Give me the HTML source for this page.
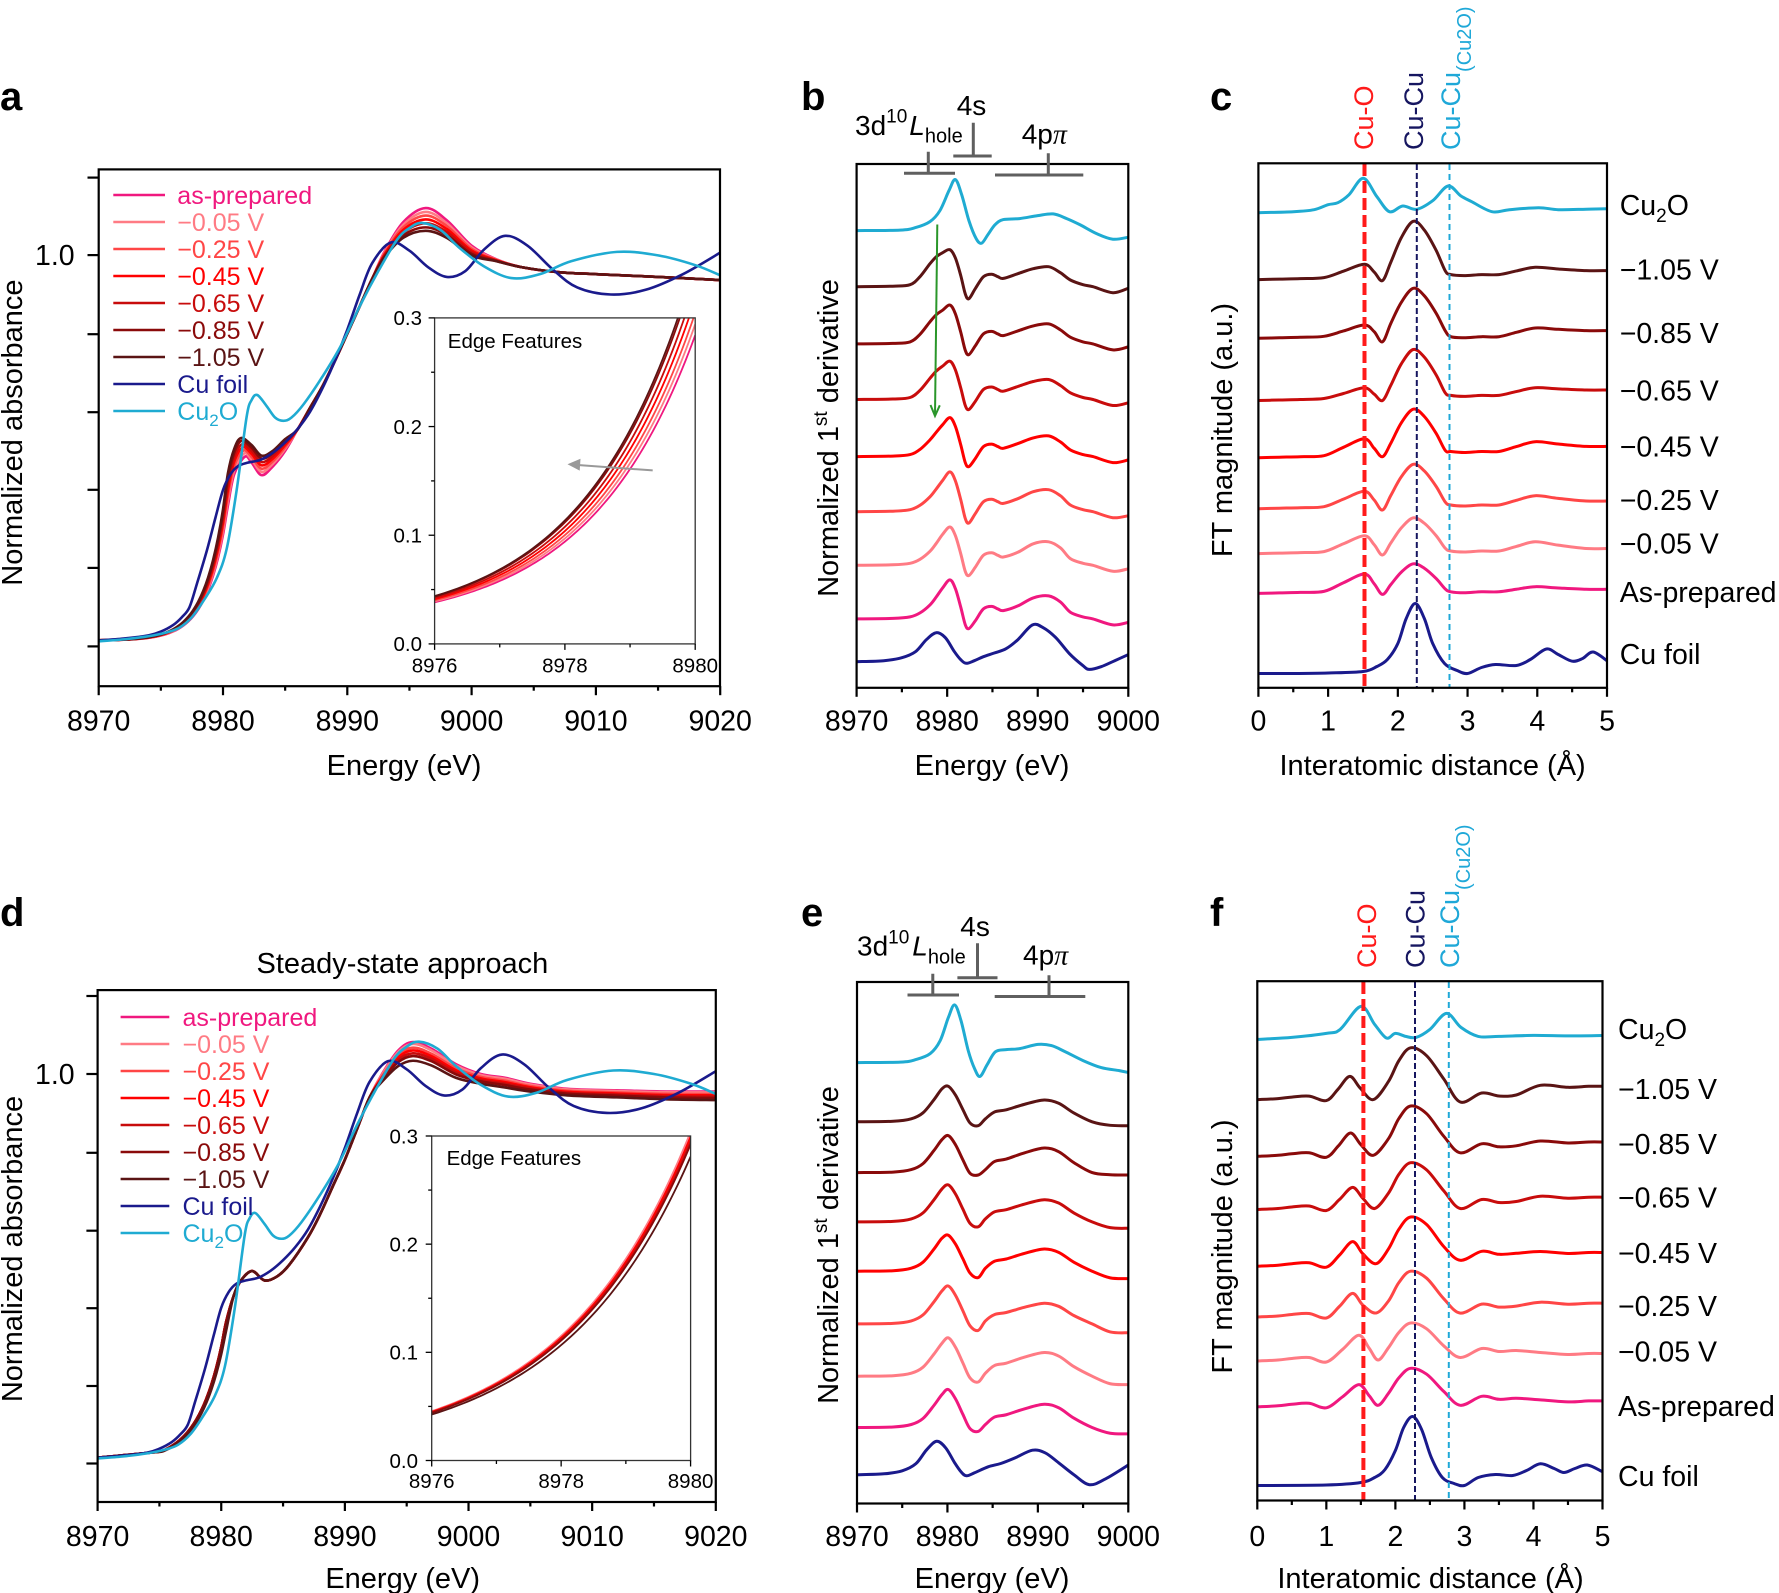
<!DOCTYPE html>
<html><head><meta charset="utf-8">
<style>
html,body{margin:0;padding:0;background:#fff;}
svg{display:block;}
text{font-family:"Liberation Sans",Arial,sans-serif;fill:#000;}
</style></head>
<body>
<svg id="s" xmlns="http://www.w3.org/2000/svg" width="1779" height="1593" viewBox="0 0 1779 1593">
<defs>
<clipPath id="ca"><rect x="98.7" y="169.4" width="621.3" height="516.8"/></clipPath>
<clipPath id="cai"><rect x="434.6" y="317.9" width="260.6" height="326"/></clipPath>
<clipPath id="cb"><rect x="856.6" y="164" width="271.7" height="523.8"/></clipPath>
<clipPath id="cc"><rect x="1258.4" y="163.3" width="348.6" height="524.5"/></clipPath>
<clipPath id="cd"><rect x="97.6" y="990.1" width="618.2" height="511.9"/></clipPath>
<clipPath id="cdi"><rect x="431.7" y="1136" width="258.9" height="324.5"/></clipPath>
<clipPath id="ce"><rect x="857" y="982" width="271.3" height="521.5"/></clipPath>
<clipPath id="cf"><rect x="1257.3" y="981.2" width="345.2" height="519.3"/></clipPath>
</defs>
<rect x="0" y="0" width="1779" height="1593" fill="#fff"/>

<!-- ===== Panel a ===== -->
<g id="gA" clip-path="url(#ca)"></g>
<g stroke-width="2.5">
<line x1="113.3" y1="195" x2="165" y2="195" stroke="#f0187f"/>
<line x1="113.3" y1="222" x2="165" y2="222" stroke="#ff7b84"/>
<line x1="113.3" y1="249" x2="165" y2="249" stroke="#ff4646"/>
<line x1="113.3" y1="276" x2="165" y2="276" stroke="#ff0000"/>
<line x1="113.3" y1="303" x2="165" y2="303" stroke="#c80c0c"/>
<line x1="113.3" y1="330" x2="165" y2="330" stroke="#8a0a0a"/>
<line x1="113.3" y1="357" x2="165" y2="357" stroke="#5a1414"/>
<line x1="113.3" y1="384" x2="165" y2="384" stroke="#1a1a8c"/>
<line x1="113.3" y1="411" x2="165" y2="411" stroke="#1fabd2"/>
</g>
<g font-size="25">
<text x="177.3" y="204" style="fill:#f0187f">as-prepared</text>
<text x="177.3" y="231" style="fill:#ff7b84">−0.05 V</text>
<text x="177.3" y="258" style="fill:#ff4646">−0.25 V</text>
<text x="177.3" y="285" style="fill:#ff0000">−0.45 V</text>
<text x="177.3" y="312" style="fill:#c80c0c">−0.65 V</text>
<text x="177.3" y="339" style="fill:#8a0a0a">−0.85 V</text>
<text x="177.3" y="366" style="fill:#5a1414">−1.05 V</text>
<text x="177.3" y="393" style="fill:#1a1a8c">Cu foil</text>
<text x="177.3" y="420" style="fill:#1fabd2">Cu<tspan font-size="17" dy="6">2</tspan><tspan dy="-6">O</tspan></text>
</g>
<rect x="434.6" y="317.9" width="260.6" height="326" fill="#fff"/>
<g id="gAi" clip-path="url(#cai)"></g>
<rect x="434.6" y="317.9" width="260.6" height="326" fill="none" stroke="#333" stroke-width="1.3"/>
<line x1="652.7" y1="470.4" x2="576" y2="464.9" stroke="#999" stroke-width="2"/>
<polygon points="567.5,464.3 580.5,458.8 579.7,470.6" fill="#999"/>
<text x="447.8" y="348" font-size="20.5">Edge Features</text>
<g font-size="20.5" text-anchor="end">
<text x="422" y="325.2">0.3</text><text x="422" y="433.9">0.2</text><text x="422" y="542.5">0.1</text><text x="422" y="651.2">0.0</text>
</g>
<g font-size="20.5" text-anchor="middle">
<text x="434.6" y="672.4">8976</text><text x="564.9" y="672.4">8978</text><text x="695.2" y="672.4">8980</text>
</g>
<rect x="98.7" y="169.4" width="621.3" height="516.8" fill="none" stroke="#000" stroke-width="2.2"/>
<text x="0" y="110" font-size="40" font-weight="bold">a</text>
<g font-size="28.5" text-anchor="middle">
<text x="98.7" y="730.6">8970</text><text x="223" y="730.6">8980</text><text x="347.3" y="730.6">8990</text>
<text x="471.6" y="730.6">9000</text><text x="595.9" y="730.6">9010</text><text x="720.2" y="730.6">9020</text>
</g>
<text x="74.6" y="265" font-size="28.5" text-anchor="end">1.0</text>
<text x="404" y="775" font-size="29" text-anchor="middle">Energy (eV)</text>
<text transform="translate(22,432.6) rotate(-90)" font-size="29" text-anchor="middle">Normalized absorbance</text>

<!-- ===== Panel b ===== -->
<g id="gB" clip-path="url(#cb)"></g>
<line x1="937.3" y1="224.5" x2="935" y2="415" stroke="#2a962a" stroke-width="2"/>
<polyline points="930.5,405 935,416 939.8,405.3" fill="none" stroke="#2a962a" stroke-width="2"/>
<rect x="856.6" y="164" width="271.7" height="523.8" fill="none" stroke="#000" stroke-width="2.2"/>
<g stroke="#5f5f5f" stroke-width="3" fill="none">
<path d="M904,173.3H955M928.3,151.7V173.3"/>
<path d="M953.3,156H991.7M973.3,122.7V156"/>
<path d="M995,175H1083.3M1048.3,153.3V175"/>
</g>
<text x="855" y="135" font-size="28">3d<tspan font-size="19" dy="-12.3">10</tspan><tspan dy="12.3" dx="2" font-style="italic">L</tspan><tspan font-size="20" dy="7.7">hole</tspan></text>
<text x="956.7" y="115" font-size="28">4s</text>
<text x="1021.7" y="143.5" font-size="28">4p<tspan font-family="Liberation Serif, serif" font-style="italic">π</tspan></text>
<text x="801" y="110" font-size="40" font-weight="bold">b</text>
<g font-size="28.5" text-anchor="middle">
<text x="856.6" y="730.6">8970</text><text x="947.2" y="730.6">8980</text><text x="1037.7" y="730.6">8990</text><text x="1128.3" y="730.6">9000</text>
</g>
<text x="992" y="775" font-size="29" text-anchor="middle">Energy (eV)</text>
<text transform="translate(838,438) rotate(-90)" font-size="29" text-anchor="middle">Normalized 1<tspan font-size="19" dy="-11">st</tspan><tspan dy="11"> derivative</tspan></text>

<!-- ===== Panel c ===== -->
<g id="gC" clip-path="url(#cc)"></g>
<line x1="1364.5" y1="164" x2="1364.5" y2="687" stroke="#ff1a1a" stroke-width="4" stroke-dasharray="12 5"/>
<line x1="1416.8" y1="164" x2="1416.8" y2="687" stroke="#161660" stroke-width="2" stroke-dasharray="6 3"/>
<line x1="1449.5" y1="164" x2="1449.5" y2="687" stroke="#1fa8d8" stroke-width="2" stroke-dasharray="6 4"/>
<rect x="1258.4" y="163.3" width="348.6" height="524.5" fill="none" stroke="#000" stroke-width="2.2"/>
<text transform="translate(1373,150) rotate(-90)" font-size="27" style="fill:#ff1a1a">Cu-O</text>
<text transform="translate(1423,150) rotate(-90)" font-size="27" style="fill:#161660">Cu-Cu</text>
<text transform="translate(1460,150) rotate(-90)" font-size="27" style="fill:#1fa8d8">Cu-Cu<tspan font-size="20" dy="11">(Cu2O)</tspan></text>
<text x="1210" y="110" font-size="40" font-weight="bold">c</text>
<g font-size="28.5" text-anchor="middle">
<text x="1258.4" y="730.6">0</text><text x="1328.1" y="730.6">1</text><text x="1397.8" y="730.6">2</text>
<text x="1467.6" y="730.6">3</text><text x="1537.3" y="730.6">4</text><text x="1607" y="730.6">5</text>
</g>
<text x="1432.6" y="775" font-size="29" text-anchor="middle">Interatomic distance (Å)</text>
<text transform="translate(1232,430) rotate(-90)" font-size="29" text-anchor="middle">FT magnitude (a.u.)</text>
<g font-size="28.5">
<text x="1619.7" y="215">Cu<tspan font-size="19" dy="7">2</tspan><tspan dy="-7">O</tspan></text>
<text x="1619.7" y="279.6">−1.05 V</text>
<text x="1619.7" y="342.9">−0.85 V</text>
<text x="1619.7" y="400.5">−0.65 V</text>
<text x="1619.7" y="456.6">−0.45 V</text>
<text x="1619.7" y="510.2">−0.25 V</text>
<text x="1619.7" y="553.6">−0.05 V</text>
<text x="1619.7" y="602">As-prepared</text>
<text x="1619.7" y="664.2">Cu foil</text>
</g>

<!-- ===== Panel d ===== -->
<g id="gD" clip-path="url(#cd)"></g>
<g stroke-width="2.5">
<line x1="120.6" y1="1017" x2="169.3" y2="1017" stroke="#f0187f"/>
<line x1="120.6" y1="1044" x2="169.3" y2="1044" stroke="#ff7b84"/>
<line x1="120.6" y1="1071" x2="169.3" y2="1071" stroke="#ff4646"/>
<line x1="120.6" y1="1098" x2="169.3" y2="1098" stroke="#ff0000"/>
<line x1="120.6" y1="1125" x2="169.3" y2="1125" stroke="#c80c0c"/>
<line x1="120.6" y1="1152" x2="169.3" y2="1152" stroke="#8a0a0a"/>
<line x1="120.6" y1="1179" x2="169.3" y2="1179" stroke="#5a1414"/>
<line x1="120.6" y1="1206" x2="169.3" y2="1206" stroke="#1a1a8c"/>
<line x1="120.6" y1="1233" x2="169.3" y2="1233" stroke="#1fabd2"/>
</g>
<g font-size="25">
<text x="182.5" y="1026" style="fill:#f0187f">as-prepared</text>
<text x="182.5" y="1053" style="fill:#ff7b84">−0.05 V</text>
<text x="182.5" y="1080" style="fill:#ff4646">−0.25 V</text>
<text x="182.5" y="1107" style="fill:#ff0000">−0.45 V</text>
<text x="182.5" y="1134" style="fill:#c80c0c">−0.65 V</text>
<text x="182.5" y="1161" style="fill:#8a0a0a">−0.85 V</text>
<text x="182.5" y="1188" style="fill:#5a1414">−1.05 V</text>
<text x="182.5" y="1215" style="fill:#1a1a8c">Cu foil</text>
<text x="182.5" y="1242" style="fill:#1fabd2">Cu<tspan font-size="17" dy="6">2</tspan><tspan dy="-6">O</tspan></text>
</g>
<rect x="431.7" y="1136" width="258.9" height="324.5" fill="#fff"/>
<g id="gDi" clip-path="url(#cdi)"></g>
<rect x="431.7" y="1136" width="258.9" height="324.5" fill="none" stroke="#333" stroke-width="1.3"/>
<text x="446.6" y="1165" font-size="20.5">Edge Features</text>
<g font-size="20.5" text-anchor="end">
<text x="418" y="1143.3">0.3</text><text x="418" y="1251.5">0.2</text><text x="418" y="1359.6">0.1</text><text x="418" y="1467.8">0.0</text>
</g>
<g font-size="20.5" text-anchor="middle">
<text x="431.7" y="1488.1">8976</text><text x="561.2" y="1488.1">8978</text><text x="690.6" y="1488.1">8980</text>
</g>
<rect x="97.6" y="990.1" width="618.2" height="511.9" fill="none" stroke="#000" stroke-width="2.2"/>
<text x="0" y="926" font-size="40" font-weight="bold">d</text>
<text x="402.4" y="973" font-size="29" text-anchor="middle">Steady-state approach</text>
<g font-size="28.5" text-anchor="middle">
<text x="97.6" y="1545.8">8970</text><text x="221.2" y="1545.8">8980</text><text x="344.9" y="1545.8">8990</text>
<text x="468.5" y="1545.8">9000</text><text x="592.2" y="1545.8">9010</text><text x="715.8" y="1545.8">9020</text>
</g>
<text x="74.6" y="1084" font-size="28.5" text-anchor="end">1.0</text>
<text x="402.7" y="1588" font-size="29" text-anchor="middle">Energy (eV)</text>
<text transform="translate(22,1249) rotate(-90)" font-size="29" text-anchor="middle">Normalized absorbance</text>

<!-- ===== Panel e ===== -->
<g id="gE" clip-path="url(#ce)"></g>
<rect x="857" y="982" width="271.3" height="521.5" fill="none" stroke="#000" stroke-width="2.2"/>
<g stroke="#5f5f5f" stroke-width="3" fill="none">
<path d="M907.5,995H959M932.8,973.8V995"/>
<path d="M957.4,977.8H997.5M977.5,943.3V977.8"/>
<path d="M994.7,996.5H1085.3M1049,975.3V996.5"/>
</g>
<text x="857" y="955.6" font-size="28">3d<tspan font-size="19" dy="-12.3">10</tspan><tspan dy="12.3" dx="3" font-style="italic">L</tspan><tspan font-size="20" dy="7.7">hole</tspan></text>
<text x="960.3" y="935.9" font-size="28">4s</text>
<text x="1023" y="964.5" font-size="28">4p<tspan font-family="Liberation Serif, serif" font-style="italic">π</tspan></text>
<text x="801" y="926" font-size="40" font-weight="bold">e</text>
<g font-size="28.5" text-anchor="middle">
<text x="857" y="1545.8">8970</text><text x="947.4" y="1545.8">8980</text><text x="1037.9" y="1545.8">8990</text><text x="1128.3" y="1545.8">9000</text>
</g>
<text x="992" y="1588" font-size="29" text-anchor="middle">Energy (eV)</text>
<text transform="translate(838,1245) rotate(-90)" font-size="29" text-anchor="middle">Normalized 1<tspan font-size="19" dy="-11">st</tspan><tspan dy="11"> derivative</tspan></text>

<!-- ===== Panel f ===== -->
<g id="gF" clip-path="url(#cf)"></g>
<line x1="1363.4" y1="982" x2="1363.4" y2="1500" stroke="#ff1a1a" stroke-width="4" stroke-dasharray="12 5"/>
<line x1="1415" y1="982" x2="1415" y2="1500" stroke="#161660" stroke-width="2" stroke-dasharray="6 3"/>
<line x1="1448.8" y1="982" x2="1448.8" y2="1500" stroke="#1fa8d8" stroke-width="2" stroke-dasharray="6 4"/>
<rect x="1257.3" y="981.2" width="345.2" height="519.3" fill="none" stroke="#000" stroke-width="2.2"/>
<text transform="translate(1376,968) rotate(-90)" font-size="27" style="fill:#ff1a1a">Cu-O</text>
<text transform="translate(1424.7,968) rotate(-90)" font-size="27" style="fill:#161660">Cu-Cu</text>
<text transform="translate(1459,968) rotate(-90)" font-size="27" style="fill:#1fa8d8">Cu-Cu<tspan font-size="20" dy="11">(Cu2O)</tspan></text>
<text x="1210" y="926" font-size="40" font-weight="bold">f</text>
<g font-size="28.5" text-anchor="middle">
<text x="1257.3" y="1545.8">0</text><text x="1326.3" y="1545.8">1</text><text x="1395.4" y="1545.8">2</text>
<text x="1464.4" y="1545.8">3</text><text x="1533.5" y="1545.8">4</text><text x="1602.5" y="1545.8">5</text>
</g>
<text x="1430.5" y="1588" font-size="29" text-anchor="middle">Interatomic distance (Å)</text>
<text transform="translate(1232,1246.5) rotate(-90)" font-size="29" text-anchor="middle">FT magnitude (a.u.)</text>
<g font-size="28.5">
<text x="1618" y="1039">Cu<tspan font-size="19" dy="7">2</tspan><tspan dy="-7">O</tspan></text>
<text x="1618" y="1098.9">−1.05 V</text>
<text x="1618" y="1154.2">−0.85 V</text>
<text x="1618" y="1207.4">−0.65 V</text>
<text x="1618" y="1263.2">−0.45 V</text>
<text x="1618" y="1315.9">−0.25 V</text>
<text x="1618" y="1361.7">−0.05 V</text>
<text x="1618" y="1416">As-prepared</text>
<text x="1618" y="1486">Cu foil</text>
</g>

<g id="tk"></g>
</svg>
<script>
(function(){
var NS='http://www.w3.org/2000/svg';
function G(id){return document.getElementById(id);}
function el(tag,a,p){var e=document.createElementNS(NS,tag);for(var k in a)e.setAttribute(k,a[k]);p.appendChild(e);return e;}
function f2(v){return v.toFixed(2);}
function cr(P){
  var d='M'+f2(P[0][0])+' '+f2(P[0][1]);
  for(var i=0;i<P.length-1;i++){
    var p0=P[i>0?i-1:i],p1=P[i],p2=P[i+1],p3=P[i+2<P.length?i+2:i+1];
    var c=[p1[0]+(p2[0]-p0[0])/6,p1[1]+(p2[1]-p0[1])/6,p2[0]-(p3[0]-p1[0])/6,p2[1]-(p3[1]-p1[1])/6,p2[0],p2[1]];
    d+='C'+c.map(f2).join(' ');
  }
  return d;
}
function draw(g,pts,X,Y,col,w){
  el('path',{d:cr(pts.map(function(p){return [X(p[0]),Y(p[1])];})),fill:'none',stroke:col,'stroke-width':w,'stroke-linejoin':'round','stroke-linecap':'round'},G(g));
}
function poly(g,pts,X,Y,col,w){
  el('path',{d:'M'+pts.map(function(p){return f2(X(p[0]))+' '+f2(Y(p[1]));}).join('L'),fill:'none',stroke:col,'stroke-width':w,'stroke-linejoin':'round'},G(g));
}
function tk(x1,y1,x2,y2,w){el('line',{x1:x1,y1:y1,x2:x2,y2:y2,stroke:'#000','stroke-width':w||2.2},G('tk'));}

var COL=['#f0187f','#ff7b84','#ff4646','#ff0000','#c80c0c','#8a0a0a','#5a1414'];
var CU='#1a1a8c', CU2O='#1fabd2';
var LW=2.6;

var cuF=[[8970,0.015],[8972,0.02],[8974,0.028],[8975,0.038],[8976,0.055],[8976.7,0.075],[8977.3,0.1],[8977.9,0.16],[8978.7,0.245],[8979.4,0.33],[8980,0.40],[8980.6,0.44],[8981.2,0.461],[8982,0.47],[8983,0.477],[8984,0.495],[8985,0.522],[8986,0.556],[8987,0.6],[8988,0.66],[8989,0.73],[8990,0.81],[8991,0.9],[8992,0.98],[8993.5,1.033],[8995,1.012],[8996.5,0.97],[8998,0.945],[8999.5,0.96],[9001,1.015],[9002.7,1.05],[9004.5,1.025],[9006.5,0.965],[9008.5,0.918],[9011.2,0.90],[9014,0.912],[9017,0.952],[9020,1.007]];
var cu2o=[[8970,0.013],[8972,0.018],[8974,0.026],[8975.5,0.036],[8976.5,0.048],[8977.5,0.075],[8978.5,0.12],[8979.5,0.175],[8980.3,0.25],[8981.1,0.40],[8981.9,0.587],[8982.3,0.63],[8982.76,0.643],[8983.5,0.615],[8984.2,0.585],[8984.85,0.577],[8985.5,0.585],[8986.5,0.62],[8988,0.69],[8989.5,0.77],[8991,0.87],[8992.5,0.96],[8994,1.04],[8995,1.07],[8996,1.083],[8997.5,1.065],[8999,1.02],[9001,0.972],[9003.2,0.942],[9005.5,0.952],[9008,0.985],[9011.7,1.009],[9015,1.0],[9018,0.975],[9020,0.949]];

function redA(t){
  var sh=0.35*(1-t); function L(a,b){return a+(b-a)*t;} var pts=[];
  for(var k=0;k<=26;k++){var E=8970+k*0.4;pts.push([E,0.015+0.029*Math.exp(0.612*(E-8976-sh))]);}
  pts.push([8980.9,L(0.44,0.505)],[L(8981.75,8981.45),L(0.485,0.533)],[8982.3,L(0.47,0.515)],[8983.1,L(0.438,0.488)],[8984,L(0.46,0.5)],[8985,L(0.5,0.53)],[8986,0.555],[8987,0.61],[8988,0.665],[8989,0.73],[8990,0.8],[8991,0.87],[8992,0.94],[8993,L(1.01,0.995)],[8994.5,L(1.085,1.045)],[8996.3,L(1.121,1.063)],[8998,L(1.09,1.045)],[9000,L(1.025,1.0)],[9002,L(0.99,0.985)],[9004,0.97],[9007,0.957],[9010,0.952],[9015,0.945],[9020,0.937]);
  return pts;
}
function redD(t){
  var sh=t>0.95?0.13:0; function L(a,b){return a+(b-a)*t;} var pts=[];
  for(var k=0;k<=26;k++){var E=8970+k*0.4;pts.push([E,Math.max(0.005+0.04*Math.exp(0.499*(E-8976-sh)),0.015+0.003*(E-8970))]);}
  pts.push([8981,0.43],[8981.6,0.47],[8982.5,0.494],[8983.5,0.47],[8984.5,0.48],[8985.5,0.51],[8987,0.58],[8988,0.64],[8989,0.71],[8990,0.78],[8991,0.86],[8992,0.94],[8993,L(1.0,0.98)],[8994.3,L(1.06,1.02)],[8995.5,L(1.082,1.034)],[8997,L(1.065,1.022)],[8999,L(1.025,0.99)],[9001,L(1.0,0.975)],[9003,L(0.99,0.965)],[9005,L(0.975,0.955)],[9008,L(0.962,0.945)],[9012,L(0.958,0.94)],[9016,L(0.955,0.935)],[9020,L(0.955,0.933)]);
  return pts;
}

/* Panel a */
var XA=function(E){return 98.7+(E-8970)*12.43;}, YA=function(a){return 646.4-a*391;};
var tA=[0,0.17,0.33,0.5,0.67,0.85,1];
for(var i=0;i<7;i++) draw('gA',redA(tA[i]),XA,YA,COL[i],LW);
draw('gA',cuF,XA,YA,CU,LW); draw('gA',cu2o,XA,YA,CU2O,LW);
var XAi=function(E){return 434.6+(E-8976)*65.15;}, YAi=function(v){return 643.9-v*1086.7;};
var sAi=[0.36,0.3,0.24,0.17,0.1,0.03,0];
for(var i=0;i<7;i++){var pts=[];for(var k=0;k<=80;k++){var E=8976+k*0.05;pts.push([E,0.015+0.029*Math.exp(0.612*(E-8976-sAi[i]))]);}poly('gAi',pts,XAi,YAi,COL[i],1.8);}

/* Panel d */
var XD=function(E){return 97.6+(E-8970)*12.364;}, YD=function(a){return 1463.5-a*389.5;};
var tD=[0,0.1,0.3,0.45,0.6,0.75,1];
for(var i=0;i<7;i++) draw('gD',redD(tD[i]),XD,YD,COL[i],LW);
draw('gD',cuF,XD,YD,CU,LW); draw('gD',cu2o,XD,YD,CU2O,LW);
var XDi=function(E){return 431.7+(E-8976)*64.72;}, YDi=function(v){return 1460.5-v*1081.7;};
var sDi=[0,-0.03,0.02,0,0.03,0.05,0.13];
for(var i=0;i<7;i++){var pts=[];for(var k=0;k<=80;k++){var E=8976+k*0.05;pts.push([E,0.005+0.04*Math.exp(0.499*(E-8976-sDi[i]))]);}poly('gDi',pts,XDi,YDi,COL[i],1.8);}

/* Panel b */
var XB=function(E){return 856.6+(E-8970)*9.057;};
function bRed(P,m,B,sh,e){return [[8970,0],[8974,0.5],[8975.9,2],[8977,6+4*sh],[8978.1,14+9*sh],[8978.8,22+8*sh],[8979.5,31+3*sh],[8980.3,P],[8980.9,P*0.78],[8981.5,P*0.3],[8982.0,m*0.6],[8982.4,m],[8983.1,-2],[8984,10],[8984.9,12.5],[8985.6,10],[8986.2,8.3],[8987.8,13],[8989.5,B-2],[8991.2,B],[8992.5,B-6],[8993.6,6.7],[8995,2],[8996.1,0],[8998.3,-6],[9000,e]];}
var bS=[[618.9,39,-9.7,23,0,-3.5],[565.3,38.3,-10.2,23.5,0,-3.5],[511.7,39.8,-11.3,22,0.1,-4],[456.6,39,-10,20.7,0.3,-3.3],[399.5,38.3,-10,20,0.8,-3.3],[343.9,38.8,-10.7,20,0.9,-3],[286.7,37,-12,20,1,-1.6]];
function YO(b){return function(o){return b-o;};}
draw('gB',[[8970,0],[8974.8,0.5],[8976.5,3],[8978.1,9],[8979.2,20],[8980.2,40],[8980.9,51],[8981.6,36],[8982.4,10],[8983.2,-8],[8983.8,-12.6],[8984.5,-4],[8985.3,6],[8986.2,11],[8988,12],[8990,15],[8991.7,16.7],[8993.2,12],[8994.7,5.7],[8996.5,-3],[8998.3,-8.6],[9000,-6.6]],XB,YO(230.6),CU2O,3);
for(var i=6;i>=0;i--){var s=bS[i];draw('gB',bRed(s[1],s[2],s[3],s[4],s[5]),XB,YO(s[0]),COL[i],3);}
draw('gB',[[8970,0],[8973,1],[8975,4],[8976.5,10],[8977.7,22],[8978.8,29],[8979.8,24],[8980.8,10],[8981.5,2],[8982.1,-1.6],[8983,1],[8984,5],[8985.2,8.7],[8986.5,13],[8987.8,22],[8989.4,36.7],[8990.6,34],[8992,24],[8993.5,8],[8995,-4],[8995.7,-7.7],[8997,-5],[8998.5,1],[9000,7.1]],XB,YO(661.7),CU,3);

/* Panel e */
var XE=function(E){return 857+(E-8970)*9.043;};
function eRed(P,m,B,e){return [[8970,0],[8974,0.5],[8976,3],[8977.3,9],[8978.5,22],[8979.4,33],[8980.1,P],[8980.9,P*0.75],[8981.7,P*0.35],[8982.5,m*0.3],[8983.4,m],[8984.2,3],[8985.2,B*0.45],[8986.5,B*0.55],[8988.5,B*0.8],[8990.7,B],[8992.3,B*0.85],[8994,B*0.4],[8996,0],[8998,e*0.9],[9000,e]];}
var eS=[[1427.5,38,-3.9,23.2,-6.4],[1376.2,38.4,-5.8,23.7,-8.4],[1323.9,37.9,-6.5,20.7,-8.9],[1271.2,36,-6.4,22.2,-7.4],[1221.9,37,-4.9,22.2,-6.4],[1172.6,37,-2.4,24.6,-2.4],[1121.8,35.5,-3.9,21.8,-3.9]];
draw('gE',[[8970,0],[8974.8,0.5],[8976.5,3],[8978.1,9],[8979.2,22],[8980.1,45],[8980.8,57.7],[8981.5,42],[8982.3,12],[8983,-6],[8983.6,-13.8],[8984.4,-2],[8985.3,10.8],[8986.5,13],[8988,14],[8990,18.2],[8991.5,17],[8993,11],[8995,2],[8997,-5],[8999,-8],[9000,-9.9]],XE,YO(1062.6),CU2O,3);
for(var i=6;i>=0;i--){var s=eS[i];draw('gE',eRed(s[1],s[2],s[3],s[4]),XE,YO(s[0]),COL[i],3);}
draw('gE',[[8970,0],[8973,1],[8975,4],[8976.5,11],[8977.7,25],[8978.8,33.5],[8979.8,27],[8980.8,12],[8981.5,3],[8982.1,-1],[8983,2],[8984.5,8],[8985.9,11.3],[8987.5,17],[8989.4,24.6],[8990.8,22],[8992.3,12],[8994,0],[8995.7,-9.9],[8997.5,-4],[9000,9.8]],XE,YO(1474.8),CU,3);

/* Panel c */
var XC=function(R){return 1258.4+R*69.72;};
function cRed(p1,d,p2,s,b4,e){return [[0,0],[0.3,0.5],[0.6,1],[0.94,2],[1.22,p1*0.55],[1.52,p1],[1.66,p1*0.5],[1.78,d],[1.9,p2*0.3],[2.05,p2*0.72],[2.22,p2],[2.38,p2*0.85],[2.55,p2*0.5],[2.68,p2*0.15],[2.76,s],[2.95,s-1],[3.2,s],[3.45,s],[3.7,(s+b4)/2],[3.97,b4],[4.3,(b4+e)/2],[4.7,e],[5,e]];}
var cS=[[593.4,19.4,-1,29.6,1.6,6.7,4.1],[553.6,17.9,-1.4,35.7,2.6,11.8,5.1],[508.7,17.4,-1.3,44.4,3.7,13,7.7],[457.7,18.9,1,48.5,6.2,16,11.3],[400.5,12.7,0,51,5.1,12.8,10.5],[338.3,13.3,-3.5,50,1.6,10.3,7.7],[279.6,15.3,-1,58.3,5,12.3,9]];
draw('gC',[[0,0],[0.5,1],[0.8,3],[1.0,8],[1.14,10],[1.3,18],[1.505,34.4],[1.7,16],[1.88,1],[2.07,6.7],[2.27,3.4],[2.5,12],[2.72,26.7],[2.9,17],[3.06,11],[3.35,1],[3.6,3],[4.02,5],[4.3,3],[4.7,3.5],[5,4]],XC,YO(212.7),CU2O,3);
for(var i=6;i>=0;i--){var s=cS[i];draw('gC',cRed(s[1],s[2],s[3],s[4],s[5],s[6]),XC,YO(s[0]),COL[i],3);}
draw('gC',[[0,0],[0.5,0],[1,0.5],[1.5,2],[1.7,7],[1.85,14],[2.0,30],[2.12,55],[2.25,70],[2.38,55],[2.5,30],[2.67,10],[2.85,3],[3.0,0],[3.2,6],[3.4,9],[3.7,8],[3.9,14],[4.13,24.5],[4.3,19],[4.5,12.3],[4.65,15],[4.8,21.5],[5,12.8]],XC,YO(673.5),CU,3);

/* Panel f */
var XF=function(R){return 1257.3+R*69.04;};
function fRed(pr,p1,mr,d,p2,s,e){return [[0,0],[0.3,1],[0.5,2.5],[0.75,3.5],[1.0,-1],[(1.0+pr)/2,p1*0.45],[pr,p1],[pr+0.15,p1*0.5],[mr,d],[1.9,p2*0.35],[2.05,p2*0.75],[2.22,p2],[2.45,p2*0.85],[2.7,p2*0.4],[2.94,s],[3.25,s+9],[3.5,s+6],[3.75,s+7],[4.1,e+1],[4.5,e-1],[4.8,e],[5,e]];}
var fS=[[1406.8,1.47,22.2,1.75,1.5,38.5,1.5,5.9],[1361,1.47,25.7,1.75,1,38,3.5,7.5],[1317,1.38,23.6,1.72,4,45.8,3.9,13.8],[1266.2,1.38,24.6,1.72,2.5,49.2,5.9,13.7],[1209.5,1.38,22.1,1.7,1,46.8,1,12.3],[1156.3,1.35,23.3,1.68,1,50.3,3.5,14.3],[1099.6,1.34,23.2,1.68,0,51.8,-2.4,13.3]];
draw('gF',[[0,0],[0.5,2],[1,6],[1.2,10],[1.5,33],[1.7,15],[1.87,1.4],[2.0,6],[2.15,3],[2.3,2],[2.5,10],[2.74,26],[2.95,12],[3.2,3],[3.5,3],[4,4],[4.5,3.5],[5,3.9]],XF,YO(1039.4),CU2O,3);
for(var i=6;i>=0;i--){var s=fS[i];draw('gF',fRed(s[1],s[2],s[3],s[4],s[5],s[6],s[7]),XF,YO(s[0]),COL[i],3);}
draw('gF',[[0,0],[1,0.5],[1.5,3],[1.7,8],[1.85,16],[2.0,35],[2.12,58],[2.25,69],[2.38,56],[2.52,28],[2.68,8],[2.85,2],[3.0,0],[3.2,8],[3.45,11],[3.7,10],[3.9,15],[4.1,21.7],[4.3,17],[4.44,13],[4.6,17],[4.78,20.5],[5,13.8]],XF,YO(1485.5),CU,3);

/* Ticks */
var E;
for(E=8970;E<=9020;E+=5){var mj=(E%10===0);tk(XA(E),686.2,XA(E),686.2+(mj?9:4.5));tk(XD(E),1502,XD(E),1502+(mj?9:4.5));}
[177.6,255.1,334.2,412.2,489.8,567.9,646.4].forEach(function(y){tk(87.5,y,98.7,y);});
[996,1074,1152.8,1230.7,1308.2,1386,1463.5].forEach(function(y){tk(86.4,y,97.6,y);});
for(E=8970;E<=9000;E+=5){var mj=(E%10===0);tk(XB(E),687.8,XB(E),687.8+(mj?9:4.5));tk(XE(E),1503.5,XE(E),1503.5+(mj?9:4.5));}
for(var k=0;k<=10;k++){var R=k*0.5,mj=(k%2===0);tk(XC(R),687.8,XC(R),687.8+(mj?9:4.5));tk(XF(R),1500.5,XF(R),1500.5+(mj?9:4.5));}
for(var k=0;k<=6;k++){var v=k*0.05,mj=(k%2===0);tk(434.6,YAi(v),434.6-(mj?6:3.5),YAi(v),1.3);tk(431.7,YDi(v),431.7-(mj?6:3.5),YDi(v),1.3);}
for(E=8976;E<=8980;E+=1){var mj=(E%2===0);tk(XAi(E),643.9,XAi(E),643.9+(mj?6:3.5),1.3);tk(XDi(E),1460.5,XDi(E),1460.5+(mj?6:3.5),1.3);}
})();
</script>
</body></html>
